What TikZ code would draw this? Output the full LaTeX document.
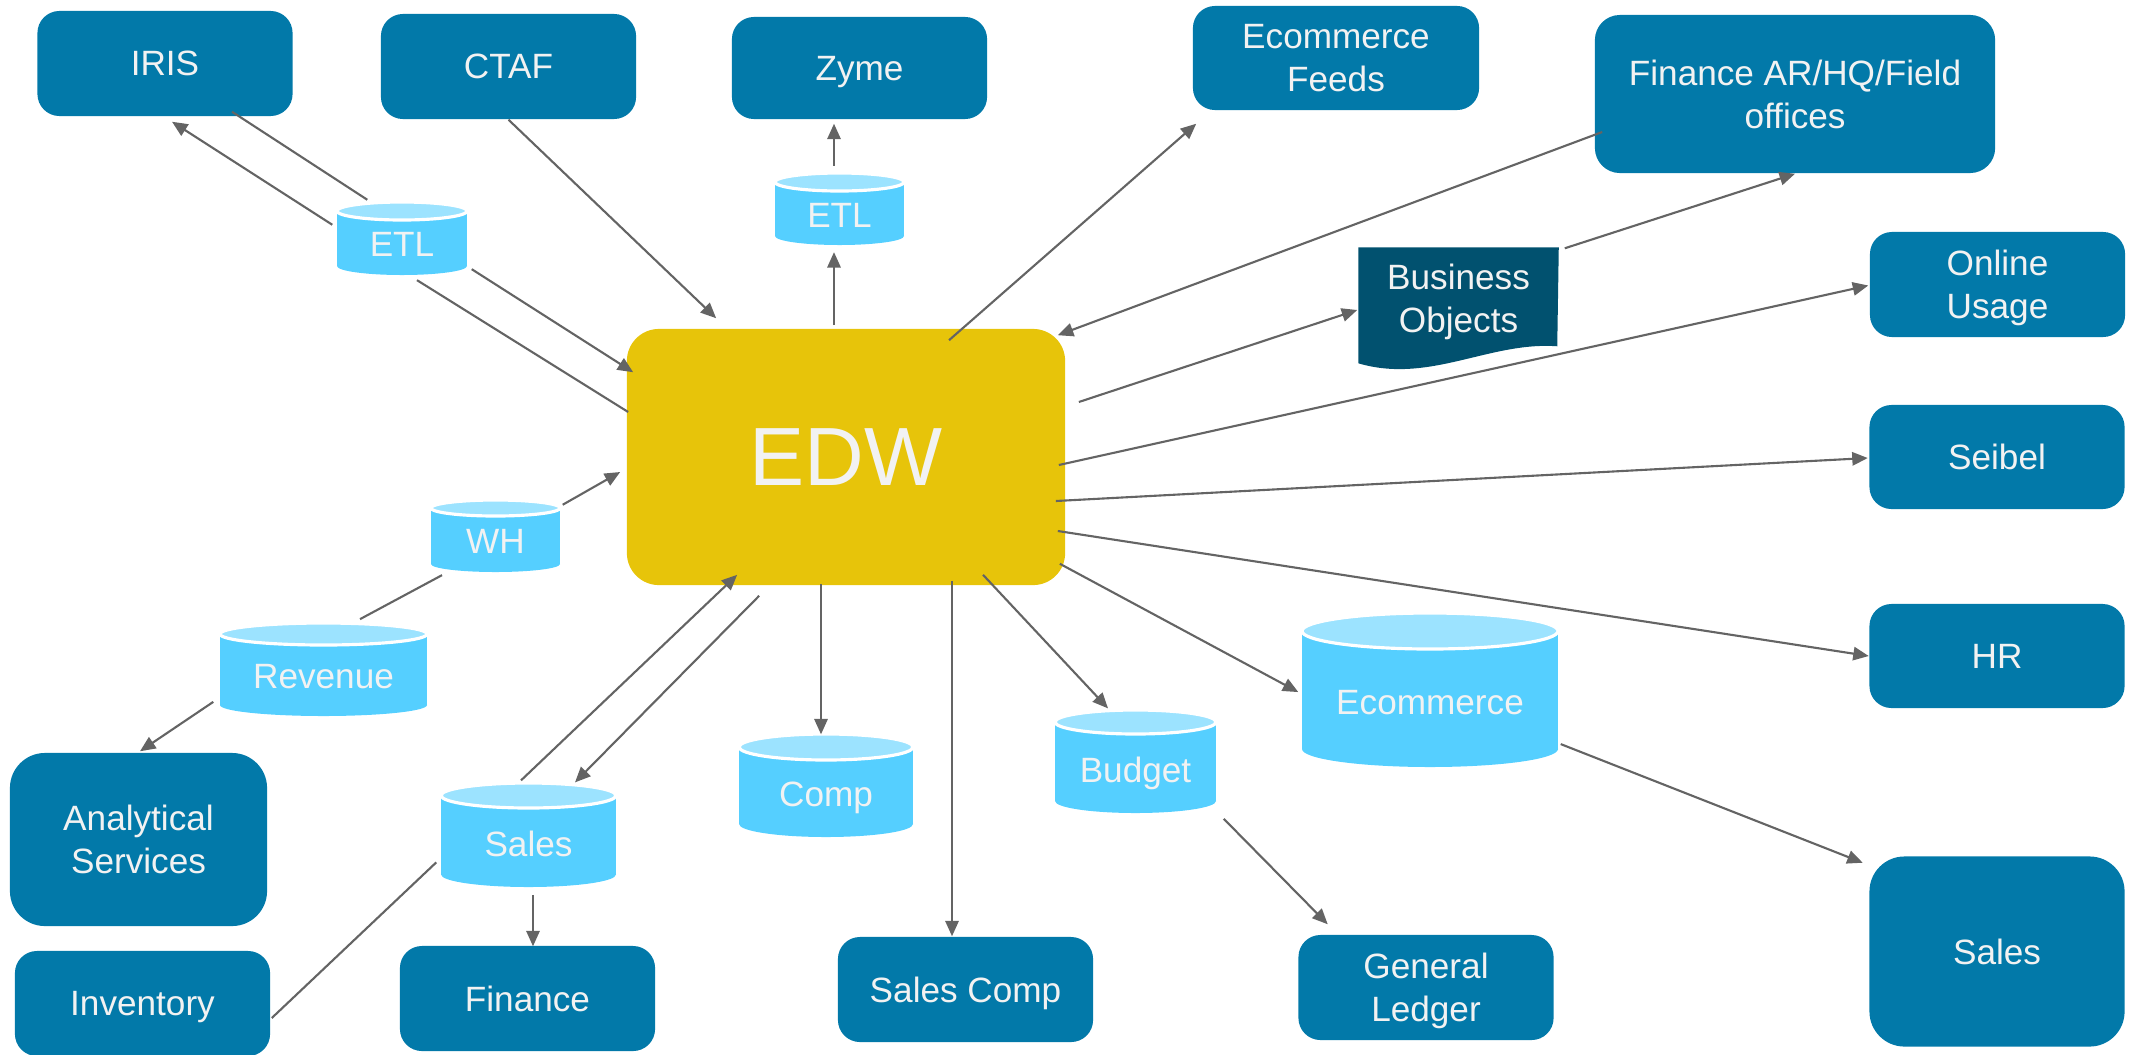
\documentclass[tikz,border=0pt]{standalone}
\usepackage{fontspec}
\setmainfont{Liberation Sans}
\usepackage{xcolor}
\usepackage{tikz}
\usetikzlibrary{arrows.meta, calc, backgrounds}
\definecolor{boxblue}{RGB}{2, 121, 169}
\definecolor{bodark}{RGB}{1, 81, 111}
\definecolor{dbbody}{RGB}{85, 207, 255}
\definecolor{dbtop}{RGB}{156, 227, 255}
\definecolor{edwgold}{RGB}{231, 196, 10}
\definecolor{linkgray}{RGB}{100, 100, 100}
\definecolor{labeltext}{RGB}{242, 242, 242}
\tikzstyle{source} = [rectangle, rounded corners=0.22cm, minimum width=2.55cm, minimum height=1.05cm, inner sep=0pt, align=center, text depth=0pt, fill=boxblue, text=labeltext, font=\fontsize{10}{12.2}\selectfont]
\tikzstyle{hub} = [rectangle, rounded corners=0.32cm, minimum width=4.38cm, minimum height=2.56cm, inner sep=0pt, fill=edwgold, text=labeltext, font=\fontsize{23.5}{28}\selectfont]
\tikzstyle{docshape} = [rectangle, minimum width=1.99cm, minimum height=1cm, inner sep=0pt, align=center, text depth=0pt, text=labeltext, font=\fontsize{10}{12.2}\selectfont]
\tikzstyle{dblabel} = [rectangle, inner sep=0pt, align=center, text depth=0pt, text=labeltext, font=\fontsize{10}{12.2}\selectfont]
\tikzstyle{arrow} = [line width=0.6pt, draw=linkgray, -{Triangle[length=4.4pt,width=3.8pt]}]
\tikzstyle{link} = [line width=0.6pt, draw=linkgray]
% database cylinder: name, centre x, top y, width, height, ellipse radius, text
\newcommand{\dbcyl}[7]{%
  \fill[dbbody] ({#2},{#3+#5-#6}) ellipse [x radius={#4/2}, y radius={#6}];
  \fill[dbbody] ({#2-#4/2},{#3+#6}) rectangle ({#2+#4/2},{#3+#5-#6});
  \filldraw[fill=dbtop, draw=white, line width=0.9pt] ({#2},{#3+#6}) ellipse [x radius={#4/2}, y radius={#6}];
  \node[dblabel, minimum width={#4*0.01cm}, minimum height={(#5-#6)*0.01cm}] (#1) at ({#2},{#3+(#5+#6)/2+0.02*#5}) {#7};
}

\begin{document}
\begin{tikzpicture}[x=0.01cm, y=-0.01cm]
    \useasboundingbox (0,0) rectangle (2131,1054);

    % Warehouse
    \node[hub] (edw) at (846,457) {EDW};

    % Data stores
    \dbcyl{etlA}{402}{202}{130}{73}{9}{ETL}
    \dbcyl{etlB}{839.5}{173}{129}{72}{9}{ETL}
    \dbcyl{wh}{495.5}{500}{129}{72}{8}{WH}
    \dbcyl{revenue}{323.5}{623}{207}{93}{11}{Revenue}
    \dbcyl{salescyl}{528.5}{783}{175}{104}{12.5}{Sales}
    \dbcyl{comp}{826}{734}{174}{103}{13}{Comp}
    \dbcyl{budget}{1135.5}{710}{161}{103}{12}{Budget}
    \dbcyl{ecomcyl}{1430}{613}{256}{154}{18}{Ecommerce}

    % Systems
    \node[source] (iris) at (165,63.5) {IRIS};
    \node[source] (ctaf) at (508.5,66.5) {CTAF};
    \node[source, minimum height=1.02cm] (zyme) at (859.5,68) {Zyme};
    \node[source, minimum width=2.86cm, minimum height=1.04cm] (ecomfeeds) at (1336,58) {Ecommerce\\Feeds};
    \node[source, minimum width=4cm, minimum height=1.58cm, rounded corners=0.25cm] (finar) at (1795,94) {Finance AR/HQ/Field\\offices};
    \node[source] (online) at (1997.5,284.5) {Online\\Usage};
    \node[source, minimum height=1.04cm] (seibel) at (1997,457) {Seibel};
    \node[source, minimum height=1.04cm] (hr) at (1997,656) {HR};
    \node[source, minimum height=1.9cm, rounded corners=0.35cm] (salesr) at (1997,951.5) {Sales};
    \node[source] (gl) at (1426,987.5) {General\\Ledger};
    \node[source] (salescomp) at (965.5,989.5) {Sales Comp};
    \node[source] (finance) at (527.5,998.5) {Finance};
    \node[source] (inventory) at (142.5,1003.5) {Inventory};
    \node[source, minimum width=2.57cm, minimum height=1.73cm, rounded corners=0.35cm] (analytical) at (138.5,839.5) {Analytical\\Services};

    % Report document
    \node[docshape] (bo) at (1458.5,298) {Business\\Objects};
    \begin{scope}[on background layer]
        \fill[bodark] (bo.north west) -- (bo.north east) -- ($(bo.north west)+(199,99)$)
            .. controls ($(bo.north west)+(131,94)$) and ($(bo.north west)+(71,137)$) .. ($(bo.north west)+(0,116)$) -- cycle;
    \end{scope}

    % Connectors
    \draw[arrow] ($(etlA.north west)+(-4,13)$) -- ($(iris.south)+(7,5)$);
    \draw[link] ($(iris.south)+(67,-5)$) -- ($(etlA.north west)+(31,-12)$);
    \draw[arrow] ($(etlA.south east)+(4,-8)$) -- ($(edw.north west)+(7,44)$);
    \draw[link] ($(edw.west)+(2,-45)$) -- ($(etlA.south)+(15,3)$);
    \draw[arrow] (ctaf.south) -- ($(edw.north west)+(90,-10)$);
    \draw[arrow] ($(edw.north)+(-12,-3)$) -- ($(etlB.south)+(-5.5,5)$);
    \draw[arrow] ($(etlB.north)+(-5.5,-17)$) -- ($(zyme.south)+(-25.5,4)$);
    \draw[arrow] ($(edw.north)+(103,12)$) -- ($(ecomfeeds.south west)+(4,13)$);
    \draw[arrow] ($(finar.west)+(8,38)$) -- ($(edw.north east)+(-8,7)$);
    \draw[arrow] ($(edw.east)+(13,-55)$) -- ($(bo.west)+(-1,12)$);
    \draw[arrow] ($(bo.north east)+(6,1)$) -- (finar.south);
    \draw[arrow] ($(edw.east)+(-7,8)$) -- ($(online.west)+(-1,1)$);
    \draw[arrow] ($(edw.east)+(-10,44)$) -- ($(seibel.west)+(-1,1)$);
    \draw[arrow] ($(edw.east)+(-8,74)$) -- (hr.west);
    \draw[arrow] ($(edw.south east)+(-6,-22)$) -- ($(ecomcyl.west)+(-3,-10)$);
    \draw[arrow] ($(ecomcyl.east)+(2,42)$) -- ($(salesr.north west)+(-6,7)$);
    \draw[arrow] ($(edw.south)+(137,-11)$) -- ($(budget.north)+(-27.5,-15)$);
    \draw[arrow] ($(budget.south east)+(7,3)$) -- ($(gl.north west)+(30,-10)$);
    \draw[arrow] ($(edw.south)+(106,-5)$) -- ($(salescomp.north)+(-13.5,0)$);
    \draw[arrow] ($(edw.south)+(-25,-2)$) -- ($(comp.north)+(-5,-14)$);
    \draw[arrow] ($(salescyl.north)+(-7.5,-16.5)$) -- ($(edw.south west)+(111,-11)$);
    \draw[arrow] ($(edw.south west)+(133,10)$) -- ($(salescyl.north)+(46.5,-14.5)$);
    \draw[arrow] ($(salescyl.south)+(4.5,5)$) -- ($(finance.north)+(5.5,1)$);
    \draw[link] ($(inventory.east)+(1,14.5)$) -- ($(salescyl.west)+(-4,19)$);
    \draw[arrow] ($(wh.north east)+(2,-4)$) -- ($(edw.west)+(-6,15)$);
    \draw[link] ($(revenue.north)+(36.5,-16)$) -- ($(wh.south)+(-53.5,1)$);
    \draw[arrow] ($(revenue.west)+(-6,25)$) -- ($(analytical.north)+(1.5,-1)$);
\end{tikzpicture}
\end{document}
